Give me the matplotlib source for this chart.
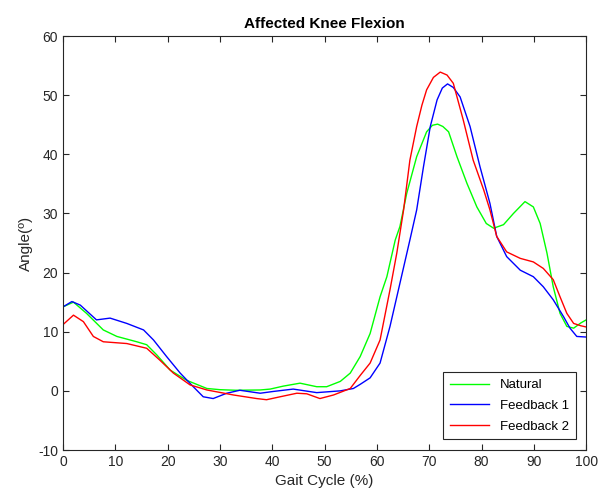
import matplotlib
matplotlib.use("Agg")
import matplotlib.pyplot as plt

plt.rcParams["font.family"] = ["Liberation Sans", "DejaVu Sans"]
plt.rcParams["axes.unicode_minus"] = False

# values
natural_x = [0, 2, 4.5, 7.7, 10.3, 14.1, 16, 17.9, 20.5, 23.6, 27.5, 30, 33,
             37.7, 39.6, 42.1, 45.3, 48.5, 50.4, 53, 54.9, 56.8, 58.7, 60.6,
             61.9, 63.5, 64.4, 65.7, 67.6, 69.5, 70.6, 71.6, 72.6, 73.7, 75.3,
             77.2, 79.1, 80.9, 82.3, 84.2, 86.1, 88.3, 89.9, 91.2, 92.5, 93.7,
             95, 96.3, 97.6, 99, 100]
natural_y = [14.2, 15.0, 13.1, 10.3, 9.2, 8.3, 7.8, 6.1, 3.5, 1.8, 0.4, 0.2,
             0.1, 0.15, 0.3, 0.8, 1.3, 0.7, 0.7, 1.6, 3.0, 5.8, 9.7, 15.9,
             19.3, 25.5, 27.8, 33.4, 39.6, 43.8, 44.9, 45.1, 44.7, 43.8, 39.6,
             35.1, 31.1, 28.3, 27.5, 28.1, 30.0, 32.0, 31.1, 28.3, 23.3, 17.6,
             13.1, 10.9, 10.6, 11.5, 12.0]

fb1_x = [0, 1.7, 3.3, 6.4, 9, 12.2, 15.4, 17.3, 19.8, 22.4, 24.9, 26.8, 28.7,
         31.3, 33.8, 37.7, 40.2, 44, 48.5, 53, 55.5, 56.8, 58.7, 60.6, 62.5,
         64.4, 66.3, 67.6, 68.9, 70.2, 71.5, 72.5, 73.5, 74.6, 75.9, 77.8,
         79.7, 81.6, 82.9, 84.8, 87.4, 89.9, 91.8, 93.7, 95.7, 96.9, 98.2, 100]
fb1_y = [14.2, 15.1, 14.5, 12.0, 12.3, 11.4, 10.3, 8.6, 5.8, 3.0, 0.7, -1.0,
         -1.3, -0.4, 0.1, -0.4, -0.1, 0.3, -0.3, 0.0, 0.4, 1.1, 2.2, 4.7,
         10.9, 18.2, 25.5, 30.6, 37.9, 44.7, 49.2, 51.2, 51.9, 51.3, 49.7,
         44.7, 37.9, 31.7, 26.1, 22.7, 20.4, 19.3, 17.6, 15.4, 12.5, 10.6,
         9.2, 9.1]

fb2_x = [0, 2, 3.9, 5.8, 7.7, 12.2, 16, 18.5, 21.1, 24.3, 27.5, 32.6, 37,
         38.9, 41.5, 44.7, 46.6, 49.1, 51.7, 54.9, 56.8, 58.7, 60.6, 62.5,
         63.8, 65.1, 66.3, 67.6, 68.6, 69.5, 70.8, 72.1, 73.4, 74.6, 76.5,
         78.4, 80.4, 81.6, 82.9, 84.8, 87.4, 89.9, 91.8, 93.7, 95, 96.3, 97.6,
         99, 100]
fb2_y = [11.2, 12.8, 11.7, 9.2, 8.3, 8.0, 7.2, 5.2, 3.0, 1.0, 0.15, -0.7,
         -1.3, -1.5, -1.0, -0.4, -0.5, -1.3, -0.7, 0.4, 2.6, 4.7, 8.6, 17.1,
         23.3, 30.6, 39.0, 44.7, 48.3, 50.9, 53.0, 53.9, 53.4, 52.0, 45.8,
         39.0, 34.0, 30.6, 26.1, 23.5, 22.4, 21.8, 20.7, 18.8, 15.9, 13.1,
         11.4, 11.0, 10.8]

labels = ["Natural", "Feedback 1", "Feedback 2"]
colors = ["#00ff00", "#0000ff", "#ff0000"]

fig = plt.figure(figsize=(6, 5), dpi=100)
ax = fig.add_axes([0.105, 0.1, 0.872, 0.828])

for xs, ys, lab, col in zip([natural_x, fb1_x, fb2_x],
                            [natural_y, fb1_y, fb2_y], labels, colors):
    ax.plot(xs, ys, color=col, lw=1.0, label=lab)

ax.set_xlim(0, 100)
ax.set_ylim(-10, 60)
ax.set_xticks(range(0, 101, 10))
ax.set_yticks(range(-10, 61, 10))
ax.tick_params(direction="in", top=True, right=True, length=4,
               labelsize=10, colors="#262626")
for s in ax.spines.values():
    s.set_color("#262626")
    s.set_linewidth(0.8)

ax.set_title("Affected Knee Flexion", fontsize=11, fontweight="bold",
             color="black")
ax.set_xlabel("Gait Cycle (%)", fontsize=11, color="#262626")
ax.set_ylabel("Angle(º)", fontsize=11, color="#262626")

leg = ax.legend(loc="lower right", fontsize=9.5, fancybox=False,
                framealpha=1, edgecolor="#262626", handlelength=3,
                borderaxespad=0.8, labelspacing=0.65, borderpad=0.5)
leg.get_frame().set_linewidth(0.8)

fig.savefig("out.png", dpi=100)
